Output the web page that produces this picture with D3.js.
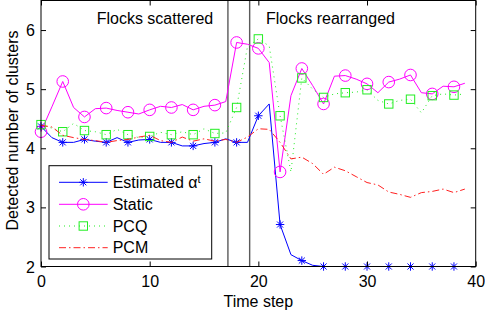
<!DOCTYPE html>
<html>
<head>
<meta charset="utf-8">
<script src="https://cdn.jsdelivr.net/npm/d3@7"></script>
<style>
  html, body { margin: 0; padding: 0; background: #fff; }
  svg { display: block; font-family: "Liberation Sans", Arial, Helvetica, sans-serif; }
</style>
</head>
<body>
<svg id="chart" width="485" height="312"></svg>
<script>
// ---- data ----
const timeSteps = d3.range(0, 40);
const estimated = [4.37,4.18,4.10,4.10,4.15,4.12,4.10,4.18,4.10,4.14,4.15,4.10,4.10,4.04,4.04,4.08,4.10,4.16,4.10,4.10,4.55,4.75,2.71,2.20,2.10,2.02,2.00,2.00,2.00,2.00,2.00,2.00,2.00,2.00,2.00,2.00,2.00,2.00,2.00,2.00];
const staticVals = [4.28,4.70,5.13,4.69,4.53,4.67,4.68,4.64,4.61,4.58,4.65,4.71,4.69,4.74,4.65,4.71,4.73,4.79,5.79,5.76,5.69,5.45,3.60,4.89,5.35,5.06,4.75,5.22,5.23,5.17,5.09,4.94,5.12,5.17,5.24,4.94,4.92,5.05,5.04,5.10];
const pcq = [4.40,4.34,4.28,4.42,4.30,4.28,4.23,4.32,4.23,4.18,4.20,4.27,4.23,4.28,4.23,4.33,4.25,4.26,4.69,5.72,5.85,5.73,4.55,3.60,5.19,5.00,4.86,4.92,4.94,4.95,4.99,4.81,4.75,4.81,4.83,4.60,4.89,4.92,4.90,4.92];
const pcm = [4.39,4.36,4.22,4.18,4.15,4.13,4.10,4.13,4.15,4.19,4.22,4.13,4.10,4.19,4.12,4.16,4.12,4.15,4.10,4.19,4.33,4.32,4.10,3.82,3.85,3.74,3.56,3.68,3.62,3.52,3.42,3.38,3.26,3.22,3.17,3.25,3.27,3.31,3.25,3.31];
const seriesNames = ["Estimated", "Static", "PCQ", "PCM"];
const xTicks = [0, 10, 20, 30, 40];
const yTicks = [2, 3, 4, 5, 6];
const phaseBounds = [17.2, 19.2];
const phaseLabels = ["Flocks scattered", "Flocks rearranged"];
const xLabel = "Time step";
const yLabel = "Detected number of clusters";

// ---- layout ----
const svg = d3.select("#chart");
const L = 41, R = 475.7, T = 0.5, B = 266.5;
const x = d3.scaleLinear().domain([0, 40]).range([L, R]);
const y = d3.scaleLinear().domain([2, 6.5]).range([B, T]);

const series = [
  { name: seriesNames[0], values: estimated, color: "#0000ff", dash: null, marker: "star" },
  { name: seriesNames[1], values: staticVals, color: "#ff00ff", dash: null, marker: "circle" },
  { name: seriesNames[2], values: pcq, color: "#22ee22", dash: "1,4", marker: "square" },
  { name: seriesNames[3], values: pcm, color: "#ff2020", dash: "7,3,1.5,3", marker: null }
];

svg.append("rect").attr("x", L).attr("y", T).attr("width", R - L).attr("height", B - T)
  .attr("fill", "#fff").attr("stroke", "none");

// phase lines
svg.selectAll(".phase").data(phaseBounds).enter().append("line")
  .attr("x1", d => x(d)).attr("x2", d => x(d)).attr("y1", T).attr("y2", B)
  .attr("stroke", "#5a5a5a").attr("stroke-width", 1.4);

svg.append("text").attr("x", 96.7).attr("y", 24).attr("font-size", 16).text(phaseLabels[0]);
svg.append("text").attr("x", 266).attr("y", 24).attr("font-size", 16).text(phaseLabels[1]);

function drawMarker(g, type, cx, cy, color) {
  if (type === "star") {
    const r = 4.2, d = r * 0.72;
    g.append("path").attr("d", `M${-r},0L${r},0M0,${-r}L0,${r}M${-d},${-d}L${d},${d}M${-d},${d}L${d},${-d}`)
      .attr("transform", `translate(${cx},${cy})`)
      .attr("stroke", color).attr("stroke-width", 1).attr("fill", "none");
  } else if (type === "circle") {
    g.append("circle").attr("cx", cx).attr("cy", cy).attr("r", 5.8)
      .attr("stroke", color).attr("stroke-width", 1).attr("fill", "none");
  } else if (type === "square") {
    g.append("rect").attr("x", cx - 4.2).attr("y", cy - 4.2).attr("width", 8.4).attr("height", 8.4)
      .attr("stroke", color).attr("stroke-width", 1).attr("fill", "none");
  }
}

const line = d3.line().x((d, i) => x(timeSteps[i])).y(d => y(d));

series.forEach(s => {
  const g = svg.append("g");
  g.append("path").attr("d", line(s.values)).attr("fill", "none")
    .attr("stroke", s.color).attr("stroke-width", 1)
    .attr("stroke-dasharray", s.dash);
  if (s.marker) {
    s.values.forEach((v, i) => {
      if (timeSteps[i] % 2 === 0) drawMarker(g, s.marker, x(timeSteps[i]), y(v), s.color);
    });
  }
});

// axes (ticks inward, mirrored)
const fmt = d3.format("d");
const ax = svg.append("g");
ax.append("g").attr("transform", `translate(0,${B})`)
  .call(d3.axisBottom(x).tickValues(xTicks).tickFormat(fmt).tickSizeInner(-5).tickSizeOuter(0).tickPadding(9.5));
ax.append("g").attr("transform", `translate(0,${T})`)
  .call(d3.axisTop(x).tickValues(xTicks).tickSizeInner(-5).tickSizeOuter(0).tickFormat(""));
const yl = ax.append("g").attr("transform", `translate(${L},0)`)
  .call(d3.axisLeft(y).tickValues(yTicks).tickFormat(fmt).tickSizeInner(-5).tickSizeOuter(0).tickPadding(6));
ax.append("g").attr("transform", `translate(${R},0)`)
  .call(d3.axisRight(y).tickValues(yTicks).tickSizeInner(-5).tickSizeOuter(0).tickFormat(""));
ax.selectAll(".domain").remove();
ax.selectAll("text").attr("font-family", "Liberation Sans, Arial, sans-serif").attr("font-size", 16).attr("fill", "#000");
yl.selectAll("text").attr("dy", "0.35em");
ax.selectAll(".tick line").attr("stroke", "#000");

svg.append("rect").attr("x", L).attr("y", T).attr("width", R - L).attr("height", B - T)
  .attr("fill", "none").attr("stroke", "#000").attr("stroke-width", 1);

// axis labels
svg.append("text").attr("x", (L + R) / 2).attr("y", 306.5).attr("text-anchor", "middle")
  .attr("font-size", 16).text(xLabel);
svg.append("text").attr("transform", `translate(18,${(T + B) / 2 - 3}) rotate(-90)`)
  .attr("text-anchor", "middle").attr("font-size", 16).text(yLabel);

// legend
const lg = svg.append("g");
lg.append("rect").attr("x", 49).attr("y", 165.7).attr("width", 162.7).attr("height", 93.3)
  .attr("fill", "#fff").attr("stroke", "#000").attr("stroke-width", 1);
const legendY = [182.3, 204.3, 226, 247.7];
series.forEach((s, i) => {
  const yy = legendY[i];
  lg.append("line").attr("x1", 59).attr("x2", 107.7).attr("y1", yy).attr("y2", yy)
    .attr("stroke", s.color).attr("stroke-width", 1).attr("stroke-dasharray", s.dash);
  if (s.marker) drawMarker(lg, s.marker, 83.3, yy, s.color);
  const t = lg.append("text").attr("x", 112.7).attr("y", yy).attr("dy", "0.35em").attr("font-size", 16);
  if (i === 0) {
    t.append("tspan").text(s.name + " \u03B1");
    t.append("tspan").attr("dy", "-0.45em").attr("font-size", 11).text("t");
  } else {
    t.text(s.name);
  }
});
</script>
</body>
</html>
